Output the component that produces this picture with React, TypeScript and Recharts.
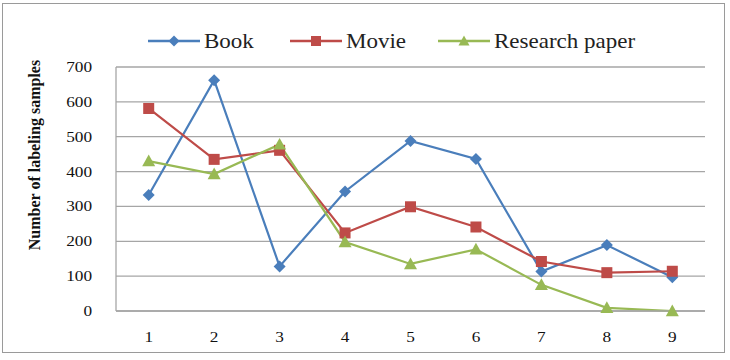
import React from 'react';
import { LineChart, Line, XAxis, YAxis, CartesianGrid } from 'recharts';

const categories = ['1', '2', '3', '4', '5', '6', '7', '8', '9'];
const bookValues = [333, 662, 128, 343, 488, 436, 113, 189, 97];
const movieValues = [581, 435, 461, 224, 299, 241, 142, 110, 114];
const researchValues = [430, 393, 478, 198, 135, 177, 75, 9, 0];
const yTicks = [0, 100, 200, 300, 400, 500, 600, 700];

const data = categories.map((c, i) => ({
  cat: c,
  book: bookValues[i],
  movie: movieValues[i],
  research: researchValues[i],
}));

const BLUE = '#4a7ebb';
const RED = '#be4b48';
const GREEN = '#98b954';
const FONT = "'Liberation Serif', 'Times New Roman', serif";
const STRETCH = 1.15;

const Diamond = ({ cx, cy, size = 6, fill }: any) =>
  cx == null ? null : (
    <polygon points={`${cx},${cy - size} ${cx + size},${cy} ${cx},${cy + size} ${cx - size},${cy}`} fill={fill} />
  );
const Square = ({ cx, cy, size = 5.5, fill }: any) =>
  cx == null ? null : <rect x={cx - size} y={cy - size} width={size * 2} height={size * 2} fill={fill} />;
const Triangle = ({ cx, cy, size = 6, fill }: any) =>
  cx == null ? null : (
    <polygon points={`${cx},${cy - size} ${cx + size},${cy + size * 0.8} ${cx - size},${cy + size * 0.8}`} fill={fill} />
  );

const legendItems = [
  { label: 'Book', color: BLUE, Marker: Diamond, x: 148, size: 5.5 },
  { label: 'Movie', color: RED, Marker: Square, x: 290, size: 5 },
  { label: 'Research paper', color: GREEN, Marker: Triangle, x: 438, size: 5.5 },
];

// Series key drawn above the plot
const SeriesKey = () => (
  <svg width={730} height={34} style={{ position: 'absolute', left: 0, top: 26, display: 'block' }}>
    {legendItems.map(({ label, color, Marker, x, size }) => (
      <g key={label}>
        <line x1={x} x2={x + 52} y1={15} y2={15} stroke={color} strokeWidth={2.5} />
        <Marker cx={x + 26} cy={15} fill={color} size={size} />
        <g transform={`translate(${x + 56},22) scale(${STRETCH},1)`}>
          <text x={0} y={0} style={{ fontFamily: FONT, fontSize: 20 }} fill="#222">
            {label}
          </text>
        </g>
      </g>
    ))}
  </svg>
);

const YLabel = () => (
  <text
    x={40}
    y={155}
    transform="rotate(-90 40 155)"
    textAnchor="middle"
    style={{ fontFamily: FONT, fontSize: 16, fontWeight: 'bold' }}
    fill="#111"
  >
    Number of labeling samples
  </text>
);

const XTick = ({ x, y, payload }: any) => (
  <g transform={`translate(${x},${y + 15}) scale(${STRETCH},1)`}>
    <text x={0} y={0} textAnchor="middle" style={{ fontFamily: FONT, fontSize: 15 }} fill="#111">
      {payload.value}
    </text>
  </g>
);

const YTick = ({ x, y, payload }: any) => (
  <g transform={`translate(${x},${y + 5}) scale(${STRETCH},1)`}>
    <text x={0} y={0} textAnchor="end" style={{ fontFamily: FONT, fontSize: 15 }} fill="#111">
      {payload.value}
    </text>
  </g>
);

export default function App() {
  return (
    <div style={{ position: 'absolute', left: 0, top: 0, width: 730, height: 360, background: '#fff' }}>
      <div
        style={{
          position: 'absolute',
          left: 2,
          top: 3,
          width: 723,
          height: 350,
          border: '1.5px solid #9a9a9a',
          boxSizing: 'border-box',
        }}
      />
      <LineChart
        width={730}
        height={360}
        data={data}
        margin={{ top: 67, right: 25, bottom: 19, left: 56 }}
        style={{ position: 'absolute', left: 0, top: 0 }}
      >
        <CartesianGrid vertical={false} stroke="#a6a6a6" strokeWidth={1.3} />
        <XAxis
          dataKey="cat"
          height={30}
          padding={{ left: 32.7, right: 32.7 }}
          stroke="#a6a6a6"
          strokeWidth={1.3}
          tickLine={false}
          tickSize={0}
          tickMargin={16}
          tick={<XTick />}
        />
        <YAxis
          width={60}
          domain={[0, 700]}
          ticks={yTicks}
          stroke="#a6a6a6"
          strokeWidth={1.3}
          tickLine={false}
          tickSize={0}
          tickMargin={24}
          tick={<YTick />}
          label={<YLabel />}
        />
        <Line
          dataKey="book"
          stroke={BLUE}
          strokeWidth={2.2}
          dot={<Diamond fill={BLUE} size={6} />}
          isAnimationActive={false}
        />
        <Line
          dataKey="movie"
          stroke={RED}
          strokeWidth={2.2}
          dot={<Square fill={RED} size={5.5} />}
          isAnimationActive={false}
        />
        <Line
          dataKey="research"
          stroke={GREEN}
          strokeWidth={2.2}
          dot={<Triangle fill={GREEN} size={6.5} />}
          isAnimationActive={false}
        />
      </LineChart>
      <SeriesKey />
    </div>
  );
}
